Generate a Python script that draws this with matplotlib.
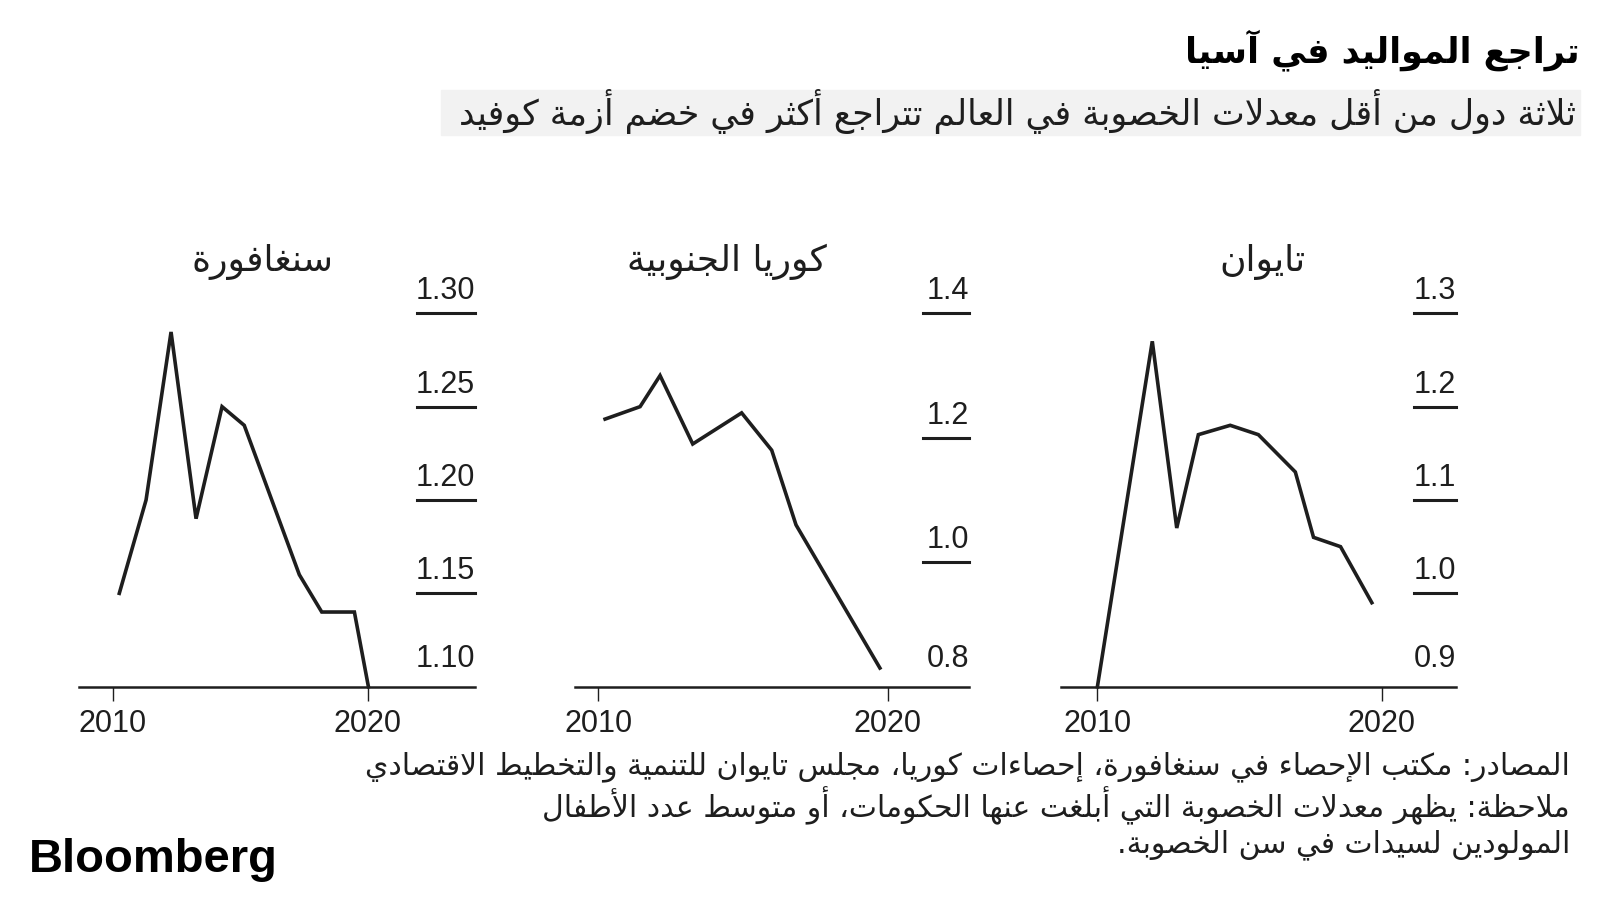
import matplotlib as mpl
mpl.use('Agg')
import matplotlib.pyplot as plt
from matplotlib.patches import Rectangle

# --- data (fertility rate, births per woman) ---
sg_years = [2010.26, 2011.31, 2012.29, 2013.27, 2014.29, 2015.16, 2017.32, 2018.2, 2019.48, 2020.03]
sg_rate = [1.15, 1.20, 1.29, 1.19, 1.25, 1.24, 1.16, 1.14, 1.14, 1.10]
sg_ticks = [1.10, 1.15, 1.20, 1.25, 1.30]
sg_labels = ['1.10', '1.15', '1.20', '1.25', '1.30']

kr_years = [2010.23, 2011.44, 2012.13, 2013.26, 2014.95, 2015.99, 2016.83, 2019.73]
kr_rate = [1.23, 1.25, 1.30, 1.19, 1.24, 1.18, 1.06, 0.83]
kr_ticks = [0.8, 1.0, 1.2, 1.4]
kr_labels = ['0.8', '1.0', '1.2', '1.4']

tw_years = [2010.0, 2011.93, 2012.79, 2013.55, 2014.67, 2015.66, 2016.96, 2017.6, 2018.55, 2019.65]
tw_rate = [0.90, 1.27, 1.07, 1.17, 1.18, 1.17, 1.13, 1.06, 1.05, 0.99]
tw_ticks = [0.9, 1.0, 1.1, 1.2, 1.3]
tw_labels = ['0.9', '1.0', '1.1', '1.2', '1.3']

x_ticks = [2010, 2020]

title = 'تراجع المواليد في آسيا'
subtitle = 'ثلاثة دول من أقل معدلات الخصوبة في العالم تتراجع أكثر في خضم أزمة كوفيد'
names = ['سنغافورة', 'كوريا الجنوبية', 'تايوان']
footer = ['المصادر: مكتب الإحصاء في سنغافورة، إحصاءات كوريا، مجلس تايوان للتنمية والتخطيط الاقتصادي',
          'ملاحظة: يظهر معدلات الخصوبة التي أبلغت عنها الحكومات، أو متوسط عدد الأطفال',
          'المولودين لسيدات في سن الخصوبة.']

# --- tiny arabic shaper: matplotlib does no joining / bidi on its own ---
BASE = {'ء': 0xFE80, 'آ': 0xFE81, 'أ': 0xFE83, 'ؤ': 0xFE85, 'إ': 0xFE87, 'ئ': 0xFE89,
        'ا': 0xFE8D, 'ب': 0xFE8F, 'ة': 0xFE93, 'ت': 0xFE95, 'ث': 0xFE99, 'ج': 0xFE9D,
        'ح': 0xFEA1, 'خ': 0xFEA5, 'د': 0xFEA9, 'ذ': 0xFEAB, 'ر': 0xFEAD, 'ز': 0xFEAF,
        'س': 0xFEB1, 'ش': 0xFEB5, 'ص': 0xFEB9, 'ض': 0xFEBD, 'ط': 0xFEC1, 'ظ': 0xFEC5,
        'ع': 0xFEC9, 'غ': 0xFECD, 'ف': 0xFED1, 'ق': 0xFED5, 'ك': 0xFED9, 'ل': 0xFEDD,
        'م': 0xFEE1, 'ن': 0xFEE5, 'ه': 0xFEE9, 'و': 0xFEED, 'ى': 0xFEEF, 'ي': 0xFEF1}
DUAL = set('ئبتثجحخسشصضطظعغفقكلمنهي')
RIGHT = set('آأؤإاةدذرزوى')
LAM_ALEF = {'آ': 0xFEF5, 'أ': 0xFEF7, 'إ': 0xFEF9, 'ا': 0xFEFB}


def shape(text):
    toks = []
    i = 0
    while i < len(text):
        if text[i] == 'ل' and i + 1 < len(text) and text[i + 1] in LAM_ALEF:
            toks.append(('LA', text[i + 1]))
            i += 2
        else:
            toks.append((text[i], text[i]))
            i += 1

    def joinable(t):
        return t[0] == 'LA' or t[0] in DUAL or t[0] in RIGHT

    out = []
    for k, t in enumerate(toks):
        prev = toks[k - 1] if k > 0 else None
        nxt = toks[k + 1] if k + 1 < len(toks) else None
        jp = prev is not None and prev[0] in DUAL and joinable(t)
        jn = nxt is not None and t[0] in DUAL and joinable(nxt)
        c = t[0]
        if c == 'LA':
            out.append(chr(LAM_ALEF[t[1]] + (1 if jp else 0)))
        elif c in DUAL:
            out.append(chr(BASE[c] + (3 if jp and jn else 1 if jp else 2 if jn else 0)))
        elif c in RIGHT:
            out.append(chr(BASE[c] + (1 if jp else 0)))
        elif c in BASE:
            out.append(chr(BASE[c]))
        else:
            out.append(c)
    return ''.join(reversed(out))


AR = ['DejaVu Sans']
NUM = ['Liberation Sans', 'DejaVu Sans']
INK = '#1e1e1e'

fig = plt.figure(figsize=(16, 9), dpi=100)
W, H = 1600.0, 900.0


def fx(px):
    return px / W


def fy(py):
    return 1 - py / H


def fit(t, width):
    r = fig.canvas.get_renderer()
    bb = t.get_window_extent(r)
    t.set_fontsize(t.get_fontsize() * width / bb.width)


# panels: (years, values, ticks, labels, xlim, left px, right px, tick line start px, title centre px)
panels = [
    (sg_years, sg_rate, sg_ticks, sg_labels, (2008.68, 2024.21), 79, 475, 417, 262),
    (kr_years, kr_rate, kr_ticks, kr_labels, (2009.19, 2022.81), 575, 969, 923, 727),
    (tw_years, tw_rate, tw_ticks, tw_labels, (2008.72, 2022.61), 1061, 1456, 1414, 1262),
]
top_px, base_px = 313.3, 686.7

for (xs, ys, ticks, labs, xlim, l, r, tl, tc), name in zip(panels, names):
    ax = fig.add_axes([fx(l), fy(base_px), fx(r - l), (base_px - top_px) / H])
    ax.set_xlim(*xlim)
    ax.set_ylim(ticks[0], ticks[-1])
    ax.plot(xs, ys, color=INK, lw=2.6, solid_joinstyle='miter', clip_on=False, zorder=3)
    ax.axhline(ticks[0], 0, 1, color=INK, lw=1.8, clip_on=False)
    frac = (tl - l) / float(r - l)
    for v, s in zip(ticks, labs):
        off = 10
        if v != ticks[0]:
            ax.axhline(v, frac, 1, color=INK, lw=2.2, clip_on=False)
        else:
            off = 14
        ax.annotate(s, (1, v), xycoords=('axes fraction', 'data'), xytext=(0, off),
                    textcoords='offset points', ha='right', va='baseline',
                    fontsize=22, family=NUM, color=INK)
    for sp in ax.spines.values():
        sp.set_visible(False)
    ax.set_yticks([])
    ax.set_xticks(x_ticks)
    ax.set_xticklabels([str(x) for x in x_ticks], family=NUM, fontsize=22, color=INK)
    ax.tick_params(axis='x', length=10, width=1, color=INK, pad=6)
    ax.patch.set_visible(False)
    fig.text(fx(tc), fy(262), shape(name), ha='center', va='center',
             family=AR, fontsize=26, color=INK)

# header
fig.patches.append(Rectangle((fx(441), fy(135)), fx(1580 - 441), (135 - 90) / H,
                             transform=fig.transFigure, color='#f2f2f2', zorder=0))
t1 = fig.text(fx(1580), fy(50), shape(title), ha='right', va='center',
              family=AR, fontweight='bold', fontsize=24, color='black')
t2 = fig.text(fx(1576), fy(112), shape(subtitle), ha='right', va='center',
              family=AR, fontsize=22, color=INK)
fit(t1, 396)
fit(t2, 1120)

# footer
f_y = [767, 806, 845]
f_w = [1200, 1035, 466]
ft = []
for s, yy in zip(footer, f_y):
    ft.append(fig.text(fx(1570), fy(yy), shape(s), ha='right', va='center',
                       family=AR, fontsize=17, color=INK))
fit(ft[0], f_w[0])
for t in ft[1:]:
    t.set_fontsize(ft[0].get_fontsize())

logo = fig.text(fx(29), fy(860), 'Bloomberg', ha='left', va='center',
                family=['Liberation Sans', 'DejaVu Sans'], fontweight='bold',
                fontsize=33, color='black')
fit(logo, 249)

plt.savefig('out.png', dpi=100, facecolor='white')
